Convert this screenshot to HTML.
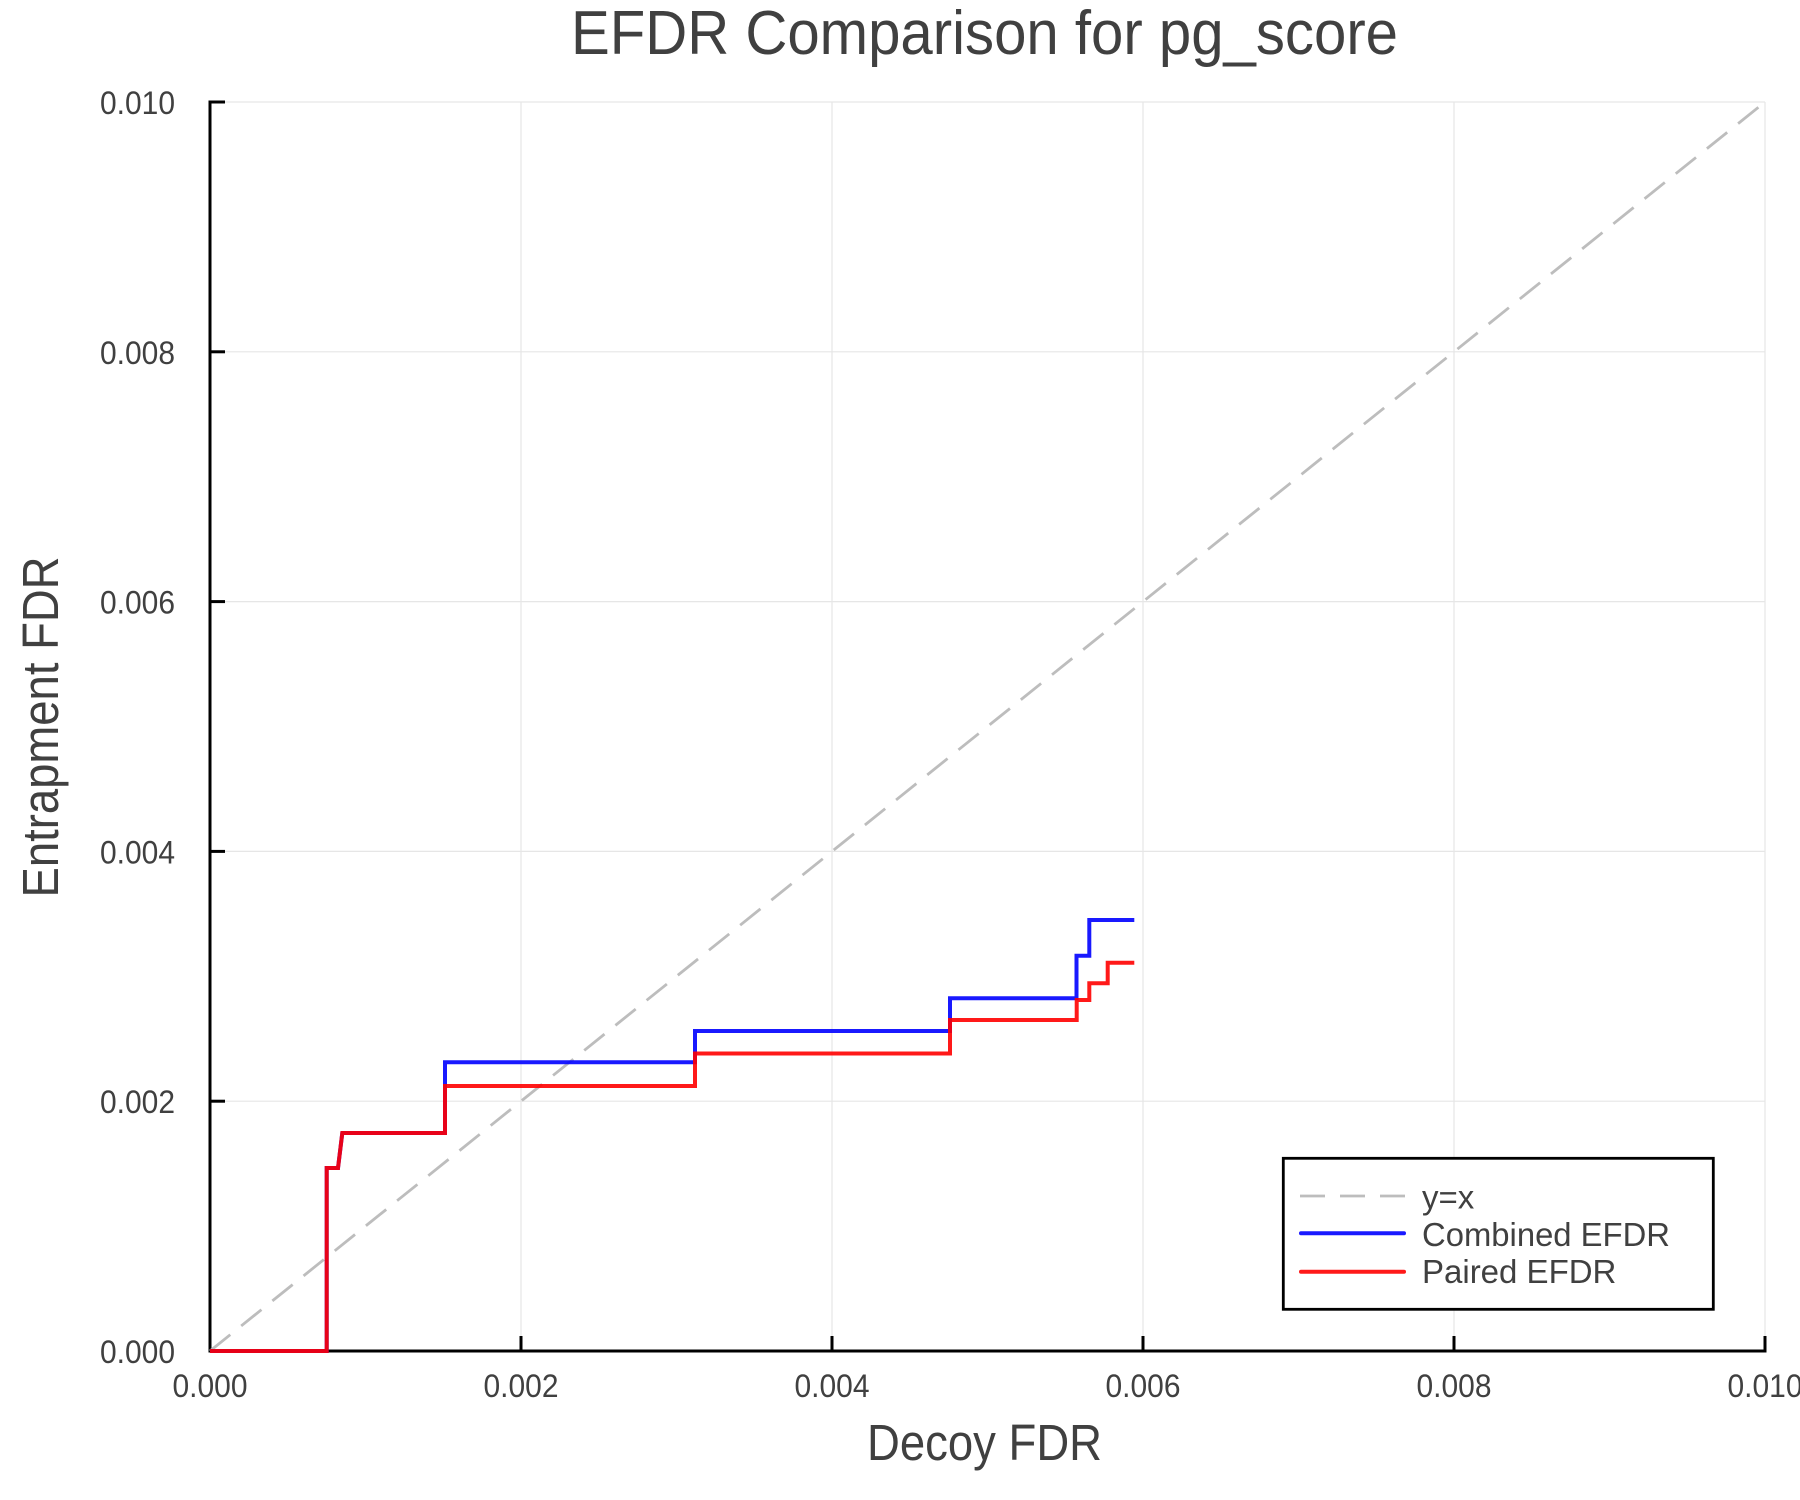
<!DOCTYPE html>
<html>
<head>
<meta charset="utf-8">
<style>
  html, body { margin: 0; padding: 0; background: #ffffff; }
  svg { display: block; }
  text { font-family: "Liberation Sans", Arial, Helvetica, sans-serif; fill: #404040; }
</style>
</head>
<body>
<svg width="1800" height="1500" viewBox="0 0 1800 1500" xmlns="http://www.w3.org/2000/svg">
  <rect x="0" y="0" width="1800" height="1500" fill="#ffffff"/>

  <!-- grid -->
  <g stroke="#e6e6e6" stroke-width="1.2">
    <line x1="521" y1="102" x2="521" y2="1351"/>
    <line x1="832" y1="102" x2="832" y2="1351"/>
    <line x1="1143" y1="102" x2="1143" y2="1351"/>
    <line x1="1454" y1="102" x2="1454" y2="1351"/>
    <line x1="1765" y1="102" x2="1765" y2="1351"/>
    <line x1="210" y1="102" x2="1765" y2="102"/>
    <line x1="210" y1="351.8" x2="1765" y2="351.8"/>
    <line x1="210" y1="601.6" x2="1765" y2="601.6"/>
    <line x1="210" y1="851.4" x2="1765" y2="851.4"/>
    <line x1="210" y1="1101.2" x2="1765" y2="1101.2"/>
  </g>

  <!-- axes spines -->
  <g stroke="#000000" stroke-width="3" fill="none">
    <line x1="210" y1="100.5" x2="210" y2="1352.5"/>
    <line x1="208.5" y1="1351" x2="1766.5" y2="1351"/>
    <!-- y ticks -->
    <line x1="210" y1="102" x2="225" y2="102"/>
    <line x1="210" y1="351.8" x2="225" y2="351.8"/>
    <line x1="210" y1="601.6" x2="225" y2="601.6"/>
    <line x1="210" y1="851.4" x2="225" y2="851.4"/>
    <line x1="210" y1="1101.2" x2="225" y2="1101.2"/>
    <!-- x ticks -->
    <line x1="521" y1="1351" x2="521" y2="1336"/>
    <line x1="832" y1="1351" x2="832" y2="1336"/>
    <line x1="1143" y1="1351" x2="1143" y2="1336"/>
    <line x1="1454" y1="1351" x2="1454" y2="1336"/>
    <line x1="1765" y1="1351" x2="1765" y2="1336"/>
  </g>

  <!-- y=x -->
  <line x1="210" y1="1351" x2="1765" y2="102" stroke="#bdbdbd" stroke-width="2.8" stroke-dasharray="26 14"/>

  <!-- Combined EFDR (blue) -->
  <path d="M210,1351 H326.7 V1168 H338 L342.3,1133 H445 V1062.3 H695 V1031 H950 V998.3 H1076.5 V955.7 H1089.3 V920 H1134.3"
        fill="none" stroke="#0000ff" stroke-opacity="0.9" stroke-width="4" stroke-linejoin="miter"/>
  <!-- Paired EFDR (red) -->
  <path d="M210,1351 H326.7 V1168 H338 L342.3,1133 H445 V1086 H695 V1053.5 H950 V1020 H1076.7 V1000 H1089.3 V983.3 H1107.7 V962.7 H1134.3"
        fill="none" stroke="#ff0000" stroke-opacity="0.9" stroke-width="4" stroke-linejoin="miter"/>

  <!-- y tick labels -->
  <g font-size="32" text-anchor="end">
    <text x="175" y="114" textLength="75" lengthAdjust="spacingAndGlyphs">0.010</text>
    <text x="175" y="363.8" textLength="75" lengthAdjust="spacingAndGlyphs">0.008</text>
    <text x="175" y="613.6" textLength="75" lengthAdjust="spacingAndGlyphs">0.006</text>
    <text x="175" y="863.4" textLength="75" lengthAdjust="spacingAndGlyphs">0.004</text>
    <text x="175" y="1113.2" textLength="75" lengthAdjust="spacingAndGlyphs">0.002</text>
    <text x="175" y="1363" textLength="75" lengthAdjust="spacingAndGlyphs">0.000</text>
  </g>

  <!-- x tick labels -->
  <g font-size="32">
    <text x="172.5" y="1397" textLength="75" lengthAdjust="spacingAndGlyphs">0.000</text>
    <text x="483.5" y="1397" textLength="75" lengthAdjust="spacingAndGlyphs">0.002</text>
    <text x="794.5" y="1397" textLength="75" lengthAdjust="spacingAndGlyphs">0.004</text>
    <text x="1105.5" y="1397" textLength="75" lengthAdjust="spacingAndGlyphs">0.006</text>
    <text x="1416.5" y="1397" textLength="75" lengthAdjust="spacingAndGlyphs">0.008</text>
    <text x="1727.5" y="1397" textLength="75" lengthAdjust="spacingAndGlyphs">0.010</text>
  </g>

  <!-- title -->
  <text x="571" y="54" font-size="62" textLength="827" lengthAdjust="spacingAndGlyphs">EFDR Comparison for pg_score</text>

  <!-- axis labels -->
  <text x="867" y="1460" font-size="51" textLength="235" lengthAdjust="spacingAndGlyphs">Decoy FDR</text>
  <text transform="translate(58,727) rotate(-90)" x="-170.5" y="0" font-size="51" textLength="341" lengthAdjust="spacingAndGlyphs">Entrapment FDR</text>

  <!-- legend -->
  <rect x="1283.3" y="1158.3" width="430" height="151" fill="#ffffff" stroke="#000000" stroke-width="2.8"/>
  <line x1="1300" y1="1196" x2="1405" y2="1196" stroke="#bdbdbd" stroke-width="2.8" stroke-dasharray="25 15"/>
  <line x1="1301" y1="1233.3" x2="1404" y2="1233.3" stroke="#0000ff" stroke-opacity="0.9" stroke-width="4" stroke-linecap="round"/>
  <line x1="1301" y1="1271.7" x2="1404" y2="1271.7" stroke="#ff0000" stroke-opacity="0.9" stroke-width="4" stroke-linecap="round"/>
  <g font-size="33">
    <text x="1422" y="1208.5">y=x</text>
    <text x="1422" y="1246" textLength="248" lengthAdjust="spacingAndGlyphs">Combined EFDR</text>
    <text x="1422" y="1283">Paired EFDR</text>
  </g>
</svg>
</body>
</html>
